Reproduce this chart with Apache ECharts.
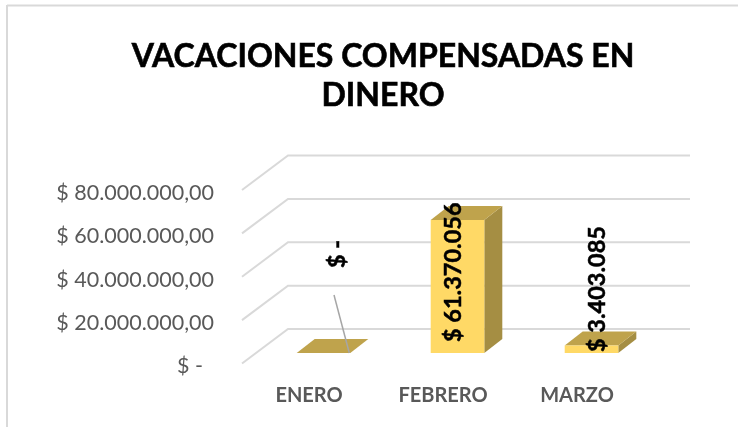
<!DOCTYPE html>
<html><head><meta charset="utf-8">
<style>html,body{margin:0;padding:0;background:#fff}#c{width:738px;height:427px}</style>
<script src="https://cdn.jsdelivr.net/npm/echarts@6/dist/echarts.min.js"></script>
</head><body><div id="c"></div>
<script>
const titleText = 'VACACIONES COMPENSADAS EN\nDINERO';
const categories = ['ENERO', 'FEBRERO', 'MARZO'];
const values = [0, 61370056, 3403085];
const axisTicks = [0, 20000000, 40000000, 60000000, 80000000];

const LABEL_FONT = 'Lato, "Open Sans", sans-serif';
const wall = {dx: 46, dy: -34.5};
const barPlane = {dx: 14.5, dy: -10.5};
const depth = {dx: 18, dy: -14};
const labelShift = [{dx: 13.5, lift: 85}, {dx: -4, lift: 11}, {dx: 6, lift: 1}];

function thousands(v) { return String(Math.round(v)).replace(/\B(?=(\d{3})+$)/g, '.'); }
function money(v) { return v === 0 ? '$ -' : '$ ' + thousands(v); }

function renderGrid(params, api) {
  const p = api.coord([0, api.value(1)]);
  const r = api.coord([categories.length - 1, api.value(1)]);
  const band = api.size([1, 0])[0];
  const left = p[0] - band / 2;
  const right = r[0] + band / 2;
  return {type: 'polyline', silent: true, z2: 1, shape: {points: [
    [left, p[1]], [left + wall.dx, p[1] + wall.dy], [right + wall.dx, p[1] + wall.dy]
  ]}, style: {stroke: '#d9d9d9', lineWidth: 2, fill: null}};
}

function renderBar(params, api) {
  const top = api.coord([api.value(0), api.value(1)]);
  const base = api.coord([api.value(0), 0]);
  const w = api.size([1, 0])[0] * 0.4;
  const x0 = top[0] - w / 2 + barPlane.dx, x1 = x0 + w;
  const yT = top[1] + barPlane.dy, yB = base[1] + barPlane.dy;
  const children = [
    {type: 'polygon', shape: {points: [[x1, yB], [x1 + depth.dx, yB + depth.dy], [x1 + depth.dx, yT + depth.dy], [x1, yT]]}, style: {fill: '#a58e43'}},
    {type: 'polygon', shape: {points: [[x0, yT], [x1, yT], [x1 + depth.dx, yT + depth.dy], [x0 + depth.dx, yT + depth.dy]]}, style: {fill: '#bfa34c'}}
  ];
  if (yB - yT > 0.5) children.push({type: 'rect', shape: {x: x0, y: yT, width: w, height: yB - yT}, style: {fill: '#ffd966'}});
  return {type: 'group', children};
}

function renderLabel(params, api) {
  const i = api.value(0), v = api.value(1);
  const base = api.coord([i, 0]);
  const s = labelShift[i];
  const w = api.size([1, 0])[0] * 0.4;
  const cx = base[0] + barPlane.dx, by = base[1] + barPlane.dy;
  const children = [{
    type: 'text', x: cx + s.dx, y: by - s.lift, rotation: Math.PI / 2,
    style: {text: money(v), fill: '#000', font: 'bold 23.5px ' + LABEL_FONT, align: 'left', verticalAlign: 'middle',
      stroke: '#000', lineWidth: 0.5}
  }];
  if (s.lift > 40) children.push({type: 'line', shape: {x1: cx + s.dx - 3, y1: by - 58, x2: cx + w / 2 - 1, y2: by}, style: {stroke: '#a6a6a6', lineWidth: 1.5}});
  return {type: 'group', children};
}

const chart = echarts.init(document.getElementById('c'), null, {renderer: 'canvas'});
chart.setOption({
  animation: false,
  backgroundColor: '#fff',
  title: {text: titleText, left: 378, top: 32, textAlign: 'center',
    textStyle: {fontFamily: LABEL_FONT, fontWeight: 'bold', fontSize: 32, lineHeight: 39, color: '#000',
      textBorderColor: '#000', textBorderWidth: 0.6}},
  grid: {left: 242, width: 402, top: 190, height: 173.5},
  xAxis: {type: 'category', data: categories, axisLine: {show: false}, axisTick: {show: false},
    splitLine: {show: false},
    axisLabel: {margin: 22, color: '#595959', fontFamily: LABEL_FONT, fontWeight: 'bold', fontSize: 20}},
  yAxis: {type: 'value', min: 0, max: 80000000, interval: 20000000,
    axisLine: {show: false}, axisTick: {show: false}, splitLine: {show: false},
    axisLabel: {margin: 28,
      rich: {a: {color: '#595959', fontFamily: LABEL_FONT, fontSize: 21.5, padding: [6, 0, 0, 0]}},
      formatter: v => '{a|' + (v === 0 ? '$ -  ' : '$ ' + thousands(v) + ',00') + '}'}},
  graphic: [
    {type: 'line', silent: true, shape: {x1: 7, y1: 5.5, x2: 738, y2: 5.5}, style: {stroke: '#d9d9d9', lineWidth: 2}},
    {type: 'line', silent: true, shape: {x1: 7, y1: 5, x2: 7, y2: 427}, style: {stroke: '#d9d9d9', lineWidth: 2}}
  ],
  series: [
    {type: 'custom', name: 'grid', z: 1, silent: true, renderItem: renderGrid, clip: false,
      data: axisTicks.map(t => [0, t]), encode: {x: 0, y: 1}},
    {type: 'custom', name: 'bars', z: 2, renderItem: renderBar, clip: false,
      data: values.map((v, i) => [i, v]), encode: {x: 0, y: 1}},
    {type: 'custom', name: 'labels', z: 3, silent: true, renderItem: renderLabel, clip: false,
      data: values.map((v, i) => [i, v]), encode: {x: 0, y: 1}}
  ]
});
</script></body></html>
